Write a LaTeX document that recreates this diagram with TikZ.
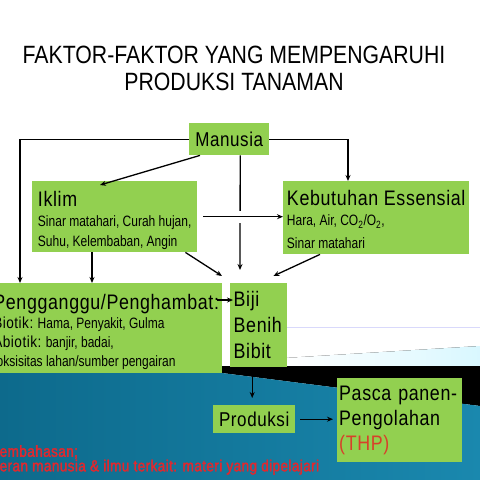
\documentclass[tikz,border=0pt]{standalone}
\usepackage{fontspec}
\setmainfont{Liberation Sans}[FakeStretch=0.85]
\newfontfamily\headfont{Liberation Sans}[FakeStretch=0.85,LetterSpace=3]
\newfontfamily\narrowfont{Liberation Sans}[FakeStretch=0.8]
\newfontfamily\notefont{Liberation Sans}[FakeStretch=0.85,LetterSpace=2.4,FakeBold=2]
\usetikzlibrary{arrows.meta}
\definecolor{boxgreen}{HTML}{92D050}
\definecolor{noteRed}{HTML}{E0282E}
\definecolor{thpRed}{HTML}{D8402A}
\definecolor{seaDark}{HTML}{0D6A8C}
\definecolor{seaLight}{HTML}{55B8DC}
\definecolor{seaMid}{HTML}{1A88AE}
\newcommand{\bigtxt}{\headfont\fontsize{21}{26}\selectfont}
\newcommand{\labtxt}{\headfont\fontsize{16}{19}\selectfont}
\begin{document}
\begin{tikzpicture}[x=1pt,y=-1pt,
  box/.style={fill=boxgreen,anchor=north west,inner xsep=5pt,inner ysep=0pt,align=left},
  arr/.style={-{Stealth[length=6pt,width=5pt]},line width=1.3pt}]
 \useasboundingbox (0,0) rectangle (480,480);
 % slide background
 \draw[color=black!10!blue!15,line width=1pt](285,327)--(480,327);
 \fill[left color=white,right color=blue!20!cyan!15](285,358)--(480,346)--(480,366)--(285,366)--cycle;
 \fill[black](222,366)--(480,366)--(480,406)--(222,373)--cycle;
 \shade[left color=seaDark,middle color=seaLight,right color=seaMid](0,373)--(222,373)--(480,406)--(480,480)--(0,480)--cycle;
 % title
 \node[align=center,font=\fontsize{25}{27}\selectfont] (title) at (234,68) {FAKTOR-FAKTOR YANG MEMPENGARUHI\\PRODUKSI TANAMAN};
 % boxes
 \node[box,minimum width=80pt,minimum height=32pt,align=center,inner xsep=0pt,font=\headfont\fontsize{20}{24}\selectfont] (manusia) at (189,123) {Manusia};
 \node[box,minimum width=165pt,minimum height=71pt,font=\narrowfont\fontsize{15}{20}\selectfont] (iklim) at (32,181)
   {{\bigtxt\rule{0pt}{23pt}Iklim}\\Sinar matahari, Curah hujan,\\Suhu, Kelembaban, Angin};
 \node[box,minimum width=186pt,minimum height=73pt,inner xsep=2.5pt,font=\narrowfont\fontsize{15}{20}\selectfont] (kebutuhan) at (283,181)
   {{\bigtxt\rule{0pt}{19pt}Kebutuhan Essensial}\\Hara, Air, CO\textsubscript{2}/O\textsubscript{2},\\[3pt]Sinar matahari};
 \node[box,minimum width=232pt,minimum height=90pt,inner xsep=1.5pt,font=\narrowfont\fontsize{15}{19}\selectfont] (pengganggu) at (-10,283)
   {{\bigtxt\rule{0pt}{23pt}Pengganggu/Penghambat:}\\{\labtxt Biotik:} Hama, Penyakit, Gulma\\{\labtxt Abiotik:} banjir, badai,\\toksisitas lahan/sumber pengairan};
 \node[box,minimum width=57pt,minimum height=84pt,text width=50pt,inner xsep=3.5pt,font=\headfont\fontsize{21}{26}\selectfont] (biji) at (230,283) {Biji\\Benih\\Bibit};
 \node[box,minimum width=82pt,minimum height=28pt,align=center,inner xsep=0pt,font=\headfont\fontsize{20}{24}\selectfont] (produksi) at (213,405) {Produksi};
 \node[box,minimum width=125pt,minimum height=84pt,text width=121pt,inner xsep=2pt,font=\headfont\fontsize{21}{25}\selectfont] (pasca) at (337,378) {Pasca panen-\\Pengolahan\\\textcolor{thpRed}{(THP)}};
 % note
 \node[anchor=north west,align=left,inner sep=0pt,text=noteRed,font=\notefont\fontsize{16}{14.5}\selectfont] (note) at (-10,445)
   {Pembahasan;\\Peran manusia \& ilmu terkait: materi yang dipelajari};
 % connectors
 \draw[arr](manusia.west)-|([xshift=30pt]pengganggu.north west);
 \draw[arr](manusia.east)-|([xshift=65pt]kebutuhan.north west);
 \draw[arr]([xshift=11pt]manusia.south west)--([xshift=68pt,yshift=-4pt]iklim.north west);
 \draw[arr]([xshift=11pt]manusia.south)--([xshift=10pt,yshift=13pt]biji.north west);
 \draw[arr,preaction={draw=white,line width=12pt,-}]([xshift=6pt]iklim.east)--(iklim.east-|kebutuhan.west);
 \draw[arr]([xshift=60pt]iklim.south west)--([xshift=102pt]pengganggu.north west);
 \draw[arr]([xshift=-12pt]iklim.south east)--([xshift=-8pt,yshift=7pt]biji.north west);
 \draw[arr]([xshift=37pt]kebutuhan.south west)--([xshift=-14pt,yshift=7pt]biji.north east);
 \draw[arr]([xshift=-5pt,yshift=-17pt]pengganggu.north east)--([xshift=3pt,yshift=-17pt]biji.north west);
 \coordinate (pb) at ([xshift=-2pt]produksi.north);
 \draw[arr](pb|-biji.south)--([yshift=7pt]pb);
 \draw[arr,shorten <=5pt,shorten >=4pt](produksi.east)--(produksi.east-|pasca.west);
\end{tikzpicture}
\end{document}
